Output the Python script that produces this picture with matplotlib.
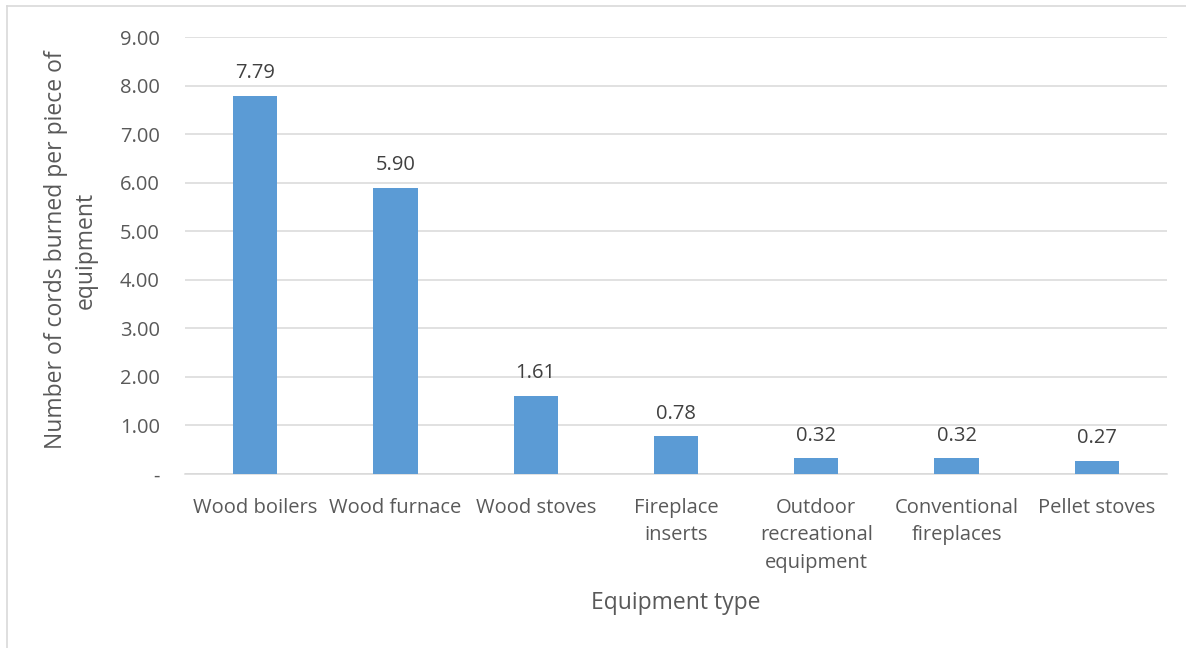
import matplotlib
matplotlib.use("Agg")
import matplotlib.pyplot as plt
from matplotlib.lines import Line2D

categories = ["Wood boilers", "Wood furnace", "Wood stoves", "Fireplace\ninserts",
              "Outdoor\nrecreational\nequipment", "Conventional\nfireplaces", "Pellet stoves"]
values = [7.79, 5.90, 1.61, 0.78, 0.32, 0.32, 0.27]
yticks = [0, 1, 2, 3, 4, 5, 6, 7, 8, 9]
ytick_labels = ["-", "1.00", "2.00", "3.00", "4.00", "5.00", "6.00", "7.00", "8.00", "9.00"]

plt.rcParams['font.family'] = ['Open Sans', 'DejaVu Sans']
txt = "#595959"
W, H = 1186, 648
fig = plt.figure(figsize=(W / 100, H / 100), dpi=100)
ax = fig.add_axes([185 / W, 1 - 474 / H, (1167 - 185) / W, (474 - 37) / H])

x = range(len(categories))
bars = ax.bar(x, values, width=0.315, color="#5B9BD5", zorder=3)
for xi, v in zip(x, values):
    ax.text(xi, v + 0.26, f"{v:.2f}", ha="center", va="bottom", fontsize=14.5, color="#404040")

ax.set_xlim(-0.5, len(categories) - 0.5)
ax.set_ylim(0, 9)
ax.set_yticks(yticks)
ax.set_yticklabels(ytick_labels, fontsize=14.5, color=txt)
ax.set_xticks(list(x))
ax.set_xticklabels(categories, fontsize=14.5, color=txt, linespacing=1.52, va="top")
ax.tick_params(axis="both", length=0)
ax.tick_params(axis="y", pad=18)
ax.tick_params(axis="x", pad=17)
ax.grid(axis="y", color="#D9D9D9", linewidth=1.1, zorder=0)
for s in ["top", "right", "left"]:
    ax.spines[s].set_visible(False)
ax.spines["bottom"].set_color("#D9D9D9")
ax.spines["bottom"].set_linewidth(1.1)

ax.set_xlabel("Equipment type", fontsize=16.5, color=txt, labelpad=13)
fig.text(71 / W, 1 - 250 / H, "Number of cords burned per piece of\nequipment", rotation=90,
         ha="center", va="center", fontsize=16.5, color=txt, linespacing=1.3)

# outer frame (top and left edges visible)
fig.add_artist(Line2D([7 / W, 1.0], [1 - 6 / H, 1 - 6 / H], transform=fig.transFigure,
                      color="#D9D9D9", linewidth=1.2))
fig.add_artist(Line2D([7 / W, 7 / W], [0, 1 - 6 / H], transform=fig.transFigure,
                      color="#D9D9D9", linewidth=1.2))

fig.savefig("out.png", dpi=100, facecolor="white")
